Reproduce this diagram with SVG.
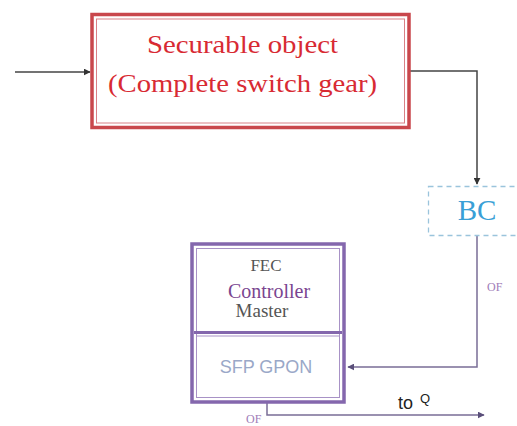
<svg xmlns="http://www.w3.org/2000/svg" width="517" height="426" viewBox="0 0 517 426">
<defs>
<marker id="ah" viewBox="0 0 10 10" refX="9" refY="5" markerWidth="7" markerHeight="7" orient="auto" markerUnits="userSpaceOnUse"><path d="M0,0 L10,5 L0,10 z" fill="#333"/></marker>
<marker id="ahp" viewBox="0 0 10 10" refX="9" refY="5" markerWidth="7" markerHeight="7" orient="auto" markerUnits="userSpaceOnUse"><path d="M0,0 L10,5 L0,10 z" fill="#5a4f7a"/></marker>
<style>
.line{fill:none;stroke:#444;stroke-width:1.5}
.pline{fill:none;stroke:#7a6e96;stroke-width:1.5}
</style>
</defs>
<rect width="517" height="426" fill="#fff"/>
<g id="connectors">
<path class="line" d="M15,72 H90" marker-end="url(#ah)"/>
<path class="line" d="M410,71 H477 V184" marker-end="url(#ah)"/>
<path class="pline" d="M477,236 V367 H348" marker-end="url(#ahp)"/>
<path class="pline" d="M267,403 V415 H484" marker-end="url(#ahp)"/>
<text x="487" y="291" font-family="'Liberation Serif', 'Times New Roman', serif" font-size="12" fill="#a07cb8">OF</text>
<text x="246" y="423" font-family="'Liberation Serif', 'Times New Roman', serif" font-size="12" fill="#a07cb8">OF</text>
<text x="398" y="409" font-family="'Liberation Sans', Arial, sans-serif" font-size="18" fill="#222">to</text>
<text x="420" y="403" font-family="'Liberation Sans', Arial, sans-serif" font-size="13" fill="#222">Q</text>
</g>
<g id="securable">
<rect x="92" y="14.5" width="317" height="113" fill="#fff" stroke="#c9474c" stroke-width="3.5"/>
<rect x="96.5" y="19" width="308" height="104" fill="none" stroke="#d98086" stroke-width="1"/>
<text x="147" y="53" textLength="191" lengthAdjust="spacingAndGlyphs" font-family="'Liberation Serif', 'Times New Roman', serif" font-size="25" fill="#d82a33">Securable object</text>
<text x="108" y="92" textLength="269" lengthAdjust="spacingAndGlyphs" font-family="'Liberation Serif', 'Times New Roman', serif" font-size="25" fill="#d82a33">(Complete switch gear)</text>
</g>
<g id="bc">
<rect x="428.5" y="186.5" width="100" height="49" fill="#fff" stroke="#9ac4dc" stroke-width="1.3" stroke-dasharray="5,4"/>
<text x="477" y="220" text-anchor="middle" font-family="'Liberation Serif', 'Times New Roman', serif" font-size="29" fill="#3a9fd6">BC</text>
</g>
<g id="fec">
<rect x="192" y="244" width="152" height="158" fill="#fff" stroke="#8467ad" stroke-width="3.5"/>
<rect x="196.5" y="248.5" width="143" height="149" fill="none" stroke="#a892c6" stroke-width="1"/>
<path d="M194,332.5 H342" stroke="#8467ad" stroke-width="3"/>
<path d="M196.5,336 H339.5" stroke="#a892c6" stroke-width="1"/>
<text x="266" y="271" text-anchor="middle" font-family="'Liberation Serif', 'Times New Roman', serif" font-size="17" fill="#555">FEC</text>
<text x="269" y="298" text-anchor="middle" font-family="'Liberation Serif', 'Times New Roman', serif" font-size="20" fill="#7a4590">Controller</text>
<text x="262" y="317" text-anchor="middle" font-family="'Liberation Serif', 'Times New Roman', serif" font-size="19" fill="#555">Master</text>
</g>
<g id="sfp">
<text x="266" y="373" text-anchor="middle" font-family="'Liberation Sans', Arial, sans-serif" font-size="18" fill="#9aa8c8">SFP GPON</text>
</g>
</svg>
